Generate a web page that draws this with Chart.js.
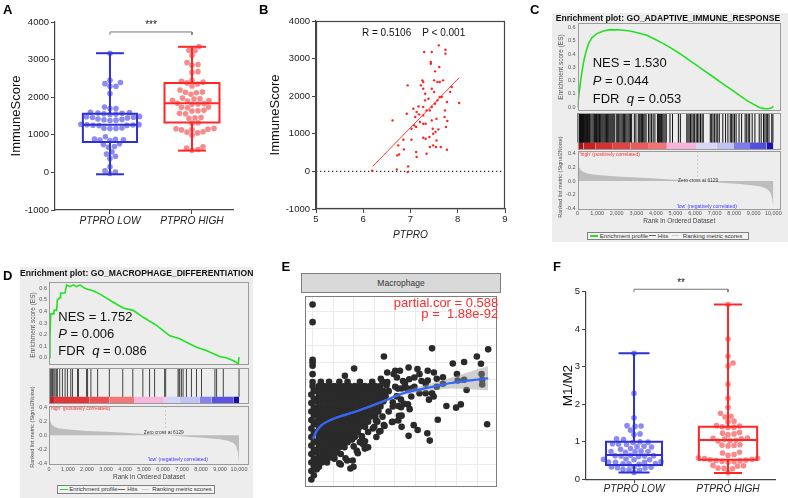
<!DOCTYPE html>
<html><head><meta charset="utf-8">
<script src="https://cdn.jsdelivr.net/npm/chart.js@4.4.1/dist/chart.umd.min.js"></script>
<style>
body{margin:0;background:#fff;width:788px;height:498px;position:relative;overflow:hidden;font-family:"Liberation Sans",Arial,sans-serif;}
canvas{position:absolute;}
.t{position:absolute;white-space:pre;line-height:1;}
</style></head><body>
<script>
// ---------------- DATA ----------------
const cats = ['PTPRO LOW', 'PTPRO HIGH'];
// Panel A: ImmuneScore
const aLow = [3170,2450,2390,2360,2290,2290,2100,1740,1700,1700,1600,1590,1580,1570,1560,1550,1540,1490,1480,1470,1460,1450,1420,1410,1400,1390,1380,1280,1270,1265,1260,1255,1250,1245,1180,1175,1170,1165,950,890,880,870,860,850,760,740,690,670,550,490,430,370,150,40,10,-30];
const aHigh = [3350,3250,3240,3110,2920,2870,2850,2680,2660,2450,2420,2400,2380,2350,2300,2190,2140,2130,2120,2080,1980,1960,1950,1920,1910,1900,1840,1830,1820,1810,1740,1730,1720,1650,1640,1630,1570,1560,1460,1450,1440,1320,1310,1170,1160,1150,1140,1130,1080,1070,1050,990,680,650,610,590];
const aLowBox = [-50, 810, 1270, 1560, 3170];   // min, q1, median, q3, max
const aHighBox = [580, 1330, 1840, 2380, 3340];
// Panel B: PTPRO vs ImmuneScore
const bX = [6.62,6.19,6.71,6.72,6.76,6.74,6.92,6.94,6.95,6.94,6.85,6.86,7.02,7.02,7.06,7.08,7.10,7.12,7.12,7.13,7.17,7.18,7.13,7.20,7.22,7.25,7.27,7.27,7.27,7.27,7.27,7.27,7.29,7.31,7.31,7.32,7.32,7.34,7.34,7.38,7.40,7.41,7.41,7.43,7.43,7.45,7.45,7.45,7.45,7.47,7.48,7.48,7.50,7.50,7.52,7.52,7.53,7.54,7.55,7.55,7.57,7.57,7.59,7.60,7.61,7.62,7.62,7.64,7.66,7.69,7.72,7.73,7.74,7.74,7.75,7.77,7.77,7.78,7.84,7.87,8.03];
const bY = [1357,18,53,425,452,692,1534,2288,133,-18,843,585,843,1135,1667,1224,1446,1180,514,381,1730,1517,1579,1313,2288,2421,2377,2200,1712,1490,1268,896,3175,2066,1889,1268,869,470,1623,1933,913,1623,647,2909,2865,3175,2200,1712,1357,1135,1002,692,2111,2421,2661,1800,1046,647,1401,825,2377,1889,1117,3352,2776,2377,1978,647,1978,2421,1446,1623,3237,3131,1180,1845,576,1339,2111,2244,1818];
const bFitX = [6.2, 8.03];
const bFitY = [133, 2492];
// GSEA rank axis ticks
const rankTicks = [0,1000,2000,3000,4000,5000,6000,7000,8000,9000,10000];
// Panel C: GSEA adaptive immune response
const cEsX = [0,51,136,221,306,425,561,731,986,1326,1666,2200,2686,3100,3536,3950,4386,4800,5236,5650,6086,6500,6936,7350,7786,8200,8636,9000,9316,9550,9741,9900,10000];
const cEsY = [0,0.076,0.176,0.265,0.34,0.416,0.479,0.524,0.555,0.575,0.585,0.582,0.575,0.56,0.542,0.512,0.479,0.443,0.403,0.36,0.315,0.272,0.227,0.183,0.139,0.095,0.05,0.02,-0.005,-0.012,-0.013,-0.008,0.005];
const cHits = [5,20,35,50,70,90,110,130,150,175,200,225,250,275,300,330,360,390,420,450,480,510,540,570,600,630,680,740,800,860,910,940,970,1000,1040,1080,1120,1160,1200,1250,1300,1350,1400,1440,1480,1520,1560,1600,1650,1700,1750,1800,1850,1900,2000,2050,2100,2160,2220,2280,2340,2400,2460,2520,2580,2640,2700,2760,2900,2980,3100,3150,3200,3260,3320,3380,3440,3500,3620,3700,3780,3860,3950,4080,4130,4180,4230,4290,4350,4410,4470,4530,4720,4850,5150,5250,5580,5640,5700,5770,5840,5910,5980,6060,6130,6200,6280,6360,6420,6780,6850,6920,7000,7080,7160,7240,7420,7560,7680,7800,7870,7940,8020,8100,8250,8380,8560,8640,8720,8790,8920,9060,9280,9380,9500,9570,9640,9710,9780,9920,9980];
const cRankX = [0,30,80,150,300,500,800,1200,2000,3000,4000,5000,5600,6129,6800,7500,8300,9000,9400,9700,9850,9950,10000];
const cRankY = [0.36,0.25,0.2,0.16,0.13,0.11,0.095,0.085,0.065,0.05,0.035,0.02,0.01,0,-0.012,-0.028,-0.045,-0.065,-0.085,-0.12,-0.17,-0.26,-0.38];
const cBarStart = [0,300,900,1800,2700,3600,4560,6090,7110,7960,8810,9660];
const cBarEnd = [300,900,1800,2700,3600,4560,6090,7110,7960,8810,9660,10000];
const cBarColor = ['#a81414','#c82020','#d83030','#e24242','#ea5a5a','#f07474','#f4b4dc','#d6d6f6','#c2c2f2','#7c7cea','#5050dc','#1a10b8'];
// Panel D: GSEA macrophage differentiation
const dEsX = [0,50,90,230,260,400,440,580,610,840,930,1100,1280,1450,1630,1890,2070,2330,2680,3380,3900,4430,4960,5660,6360,6880,7230,7760,8280,8980,9330,9680,9960,10000];
const dEsY = [0,0.18,0.38,0.38,0.41,0.41,0.5,0.52,0.56,0.56,0.63,0.615,0.63,0.615,0.63,0.6,0.59,0.58,0.55,0.48,0.43,0.41,0.35,0.28,0.19,0.164,0.135,0.092,0.063,0.011,0,-0.023,-0.05,0.006];
const dHits = [0,35,88,141,176,212,265,318,388,441,564,706,847,970,1147,1235,1500,1552,1976,2029,2205,2558,3175,3881,4410,4939,5292,5557,6086,6139,6791,6844,6880,6968,7056,7232,7497,7762,8026,8732,8820,9173,10000];
const dRankX = [0,30,80,150,300,500,800,1200,2000,3000,4000,5000,5600,6129,6800,7500,8300,9000,9400,9700,9850,9950,10000];
const dRankY = [0.3,0.24,0.19,0.15,0.12,0.1,0.088,0.078,0.06,0.047,0.033,0.018,0.009,0,-0.012,-0.027,-0.042,-0.06,-0.08,-0.11,-0.16,-0.25,-0.4];
const dBarStart = [0,265,2117,3175,4498,6086,6880,7938,8555,9702];
const dBarEnd = [265,2117,3175,4498,6086,6880,7938,8555,9702,10000];
const dBarColor = ['#c82222','#e03838','#ea5252','#f07878','#f6b6de','#d4d4f6','#c4c4f4','#8484ec','#5a52e0','#1a0ab2'];
// Panel E: Macrophage scatter (x, y in plot units)
const ePoints = [
[-0.06,0.1],[0.06,0.35],[-0.06,0.6],[0.06,0.85],[-0.06,1.1],[0.06,1.35],[-0.06,1.6],[0.06,1.85],[-0.06,2.1],[0.06,2.35],[-0.06,2.6],[0.06,2.85],[-0.06,3.1],[0.06,3.35],[-0.06,3.6],[0.06,3.85],[-0.06,4.1],[0.06,4.35],[-0.06,4.6],[0.06,4.85],[-0.06,5.1],[0.06,5.35],[0,5.6],[0,5.84],[0,6.3],[0,6.8],[0,7.0],[0,7.15],[0,9.36],[0,10.4],
[0.2,0.7],[0.31,0.85],[0.51,1.22],[0.75,1.79],[0.9,1.41],[1.06,1.32],[1.21,1.98],[1.37,1.6],[1.68,1.22],[1.84,0.75],[2.15,1.79],[2.46,2.17],[2.62,1.98],[2.93,3.1],[3.24,2.92],[3.47,3.3],[3.08,3.58],[3.86,3.48],[1.37,0.98],[1.95,1.22],[1.99,0.85],[0.64,1.45],[2.54,1.92],[1.53,2.35],[1.92,2.45],[2.38,2.64],
[0.2,1.1],[0.45,1.1],[0.7,1.1],[1.3,1.05],
[0.3,1.4],[0.55,1.4],[0.8,1.4],[1.05,1.4],[1.6,1.35],
[0.2,1.7],[0.45,1.7],[0.7,1.7],[0.95,1.7],[1.2,1.7],[2.2,1.65],
[0.3,2.0],[0.55,2.0],[0.8,2.0],[1.05,2.0],[1.3,2.0],[1.55,2.0],[2.0,2.05],[2.7,2.0],
[0.2,2.3],[0.45,2.3],[0.7,2.3],[0.95,2.3],[1.2,2.3],[1.45,2.3],[1.7,2.3],[2.3,2.3],[2.55,2.35],
[0.3,2.6],[0.55,2.6],[0.8,2.6],[1.05,2.6],[1.3,2.6],[1.55,2.6],[1.8,2.6],[2.05,2.6],[2.4,2.65],[3.1,2.6],
[0.2,2.9],[0.45,2.9],[0.7,2.9],[0.95,2.9],[1.2,2.9],[1.45,2.9],[1.7,2.9],[1.95,2.9],[2.2,2.9],[2.7,2.9],[3.3,2.95],
[0.3,3.2],[0.55,3.2],[0.8,3.2],[1.05,3.2],[1.3,3.2],[1.55,3.2],[1.8,3.2],[2.05,3.2],[2.3,3.2],[2.55,3.2],[3.0,3.2],[3.5,3.25],
[0.2,3.5],[0.45,3.5],[0.7,3.5],[0.95,3.5],[1.2,3.5],[1.45,3.5],[1.7,3.5],[1.95,3.5],[2.2,3.5],[2.45,3.5],[2.7,3.5],[3.15,3.5],[3.9,3.5],
[0.3,3.8],[0.55,3.8],[0.8,3.8],[1.05,3.8],[1.3,3.8],[1.55,3.8],[1.8,3.8],[2.05,3.8],[2.3,3.8],[2.55,3.8],[2.8,3.8],[3.05,3.8],[3.4,3.8],[4.2,3.85],
[0.2,4.1],[0.45,4.1],[0.7,4.1],[0.95,4.1],[1.2,4.1],[1.45,4.1],[1.7,4.1],[1.95,4.1],[2.2,4.1],[2.45,4.1],[2.7,4.1],[2.95,4.1],[3.2,4.1],[3.7,4.1],
[0.3,4.4],[0.55,4.4],[0.8,4.4],[1.05,4.4],[1.3,4.4],[1.55,4.4],[1.8,4.4],[2.05,4.4],[2.3,4.4],[2.55,4.4],[2.8,4.4],[3.05,4.4],[3.3,4.4],[3.9,4.4],[4.3,4.35],
[0.2,4.7],[0.45,4.7],[0.7,4.7],[0.95,4.7],[1.2,4.7],[1.45,4.7],[1.7,4.7],[1.95,4.7],[2.2,4.7],[2.45,4.7],[2.7,4.7],[2.95,4.7],[3.2,4.7],[3.45,4.7],[3.9,4.65],
[0.3,5.0],[0.55,5.0],[0.8,5.0],[1.05,5.0],[1.3,5.0],[1.55,5.0],[1.8,5.0],[2.05,5.0],[2.3,5.0],[2.55,5.0],[2.8,5.0],[3.05,5.0],[3.3,5.0],[3.55,5.0],[4.1,5.0],
[0.2,5.3],[0.45,5.3],[0.7,5.3],[0.95,5.3],[1.2,5.3],[1.45,5.3],[1.7,5.3],[1.95,5.3],[2.2,5.3],[2.45,5.3],[2.7,5.3],[2.95,5.3],[3.2,5.3],[3.45,5.3],[3.7,5.3],
[0.3,5.6],[0.55,5.6],[0.8,5.6],[1.05,5.6],[1.3,5.6],[1.55,5.6],[1.8,5.6],[2.05,5.6],[2.3,5.6],[2.55,5.6],[2.8,5.6],[3.05,5.6],[3.3,5.6],[3.6,5.65],
[0.4,5.85],[0.8,5.85],[1.3,5.85],[1.7,5.85],[2.3,5.85],[2.9,5.85],[3.4,5.85],
[1.57,6.2],[2.02,6.63],[3.47,7.34],[3.32,6.03],[3.63,6.4],[4.02,6.5],[3.63,5.84],[3.94,6.31],[4.25,6.5],[4.67,6.69],[5.1,6.6],[5.2,6.3],[5.6,6.5],[5.9,6.4],[5.6,5.93],[6.04,6.03],[5.81,7.82],[6.82,6.93],[7.37,7.02],[7.99,7.34],[8.54,7.76],[8.19,6.91],[7.02,6.31],[7.06,5.93],[7.37,5.97],[7.49,5.37],[8.22,6.31],[8.25,5.97],[8.25,5.69],[6.51,4.43],[6.98,4.33],[7.21,4.52],[6.09,3.62],[8.49,3.35],[5.11,3.01],[4.67,2.67],[5.58,2.82],[5.7,2.39],[4.92,3.3],[4.33,3.2],[4.17,4.43],[4.72,4.24],[4.64,4.52],[4.33,3.86],[4.17,3.58],[4.8,4.99],[5.2,5.18],[5.5,5.18],[5.66,4.8],[5.81,5.18],[5.89,4.99],[4.95,5.56],[4.64,5.37],[4.33,5.46],[4.02,5.56],[6.04,5.56],[6.34,5.74],[5.5,5.74],[4.49,5.74],[4.15,5.45],[4.55,5.5],[4.8,5.45],[4.4,5.9],[4.1,6.1],[4.7,6.0],[4.1,5.0],[4.3,4.8],[4.45,4.55],[5.3,5.9],[4.95,6.1],[6.34,6.12]
];
const eFitX = [0.02,0.2,0.44,0.83,1.45,2.07,2.85,3.63,4.41,5.19,5.97,6.74,7.68,8.54];
const eFitY = [2.5,2.96,3.3,3.58,3.86,4.09,4.43,4.8,5.18,5.4,5.59,5.78,5.93,6.06];
const eBandLo = [2.35,2.86,3.22,3.51,3.8,4.03,4.36,4.71,5.06,5.23,5.35,5.45,5.41,5.34];
const eBandHi = [2.65,3.06,3.38,3.65,3.92,4.15,4.5,4.89,5.3,5.57,5.83,6.11,6.45,6.78];
// Panel F: M1/M2
const fLow = [3.36,2.29,1.64,1.43,1.42,1.41,1.31,1.21,1.19,1.08,1.06,1.0,0.99,0.98,0.95,0.94,0.93,0.88,0.87,0.86,0.82,0.8,0.75,0.74,0.74,0.73,0.72,0.64,0.63,0.63,0.62,0.62,0.61,0.54,0.53,0.52,0.52,0.47,0.46,0.45,0.45,0.42,0.41,0.41,0.4,0.33,0.33,0.32,0.31,0.3,0.26,0.25,0.24,0.18];
const fHigh = [4.66,3.74,3.28,3.1,3.02,2.53,2.16,1.92,1.76,1.68,1.66,1.55,1.53,1.43,1.42,1.4,1.39,1.38,1.25,1.23,1.21,1.19,1.1,1.09,1.08,1.07,1.04,1.03,1.02,0.92,0.91,0.9,0.89,0.72,0.7,0.66,0.64,0.57,0.56,0.55,0.53,0.52,0.51,0.5,0.49,0.48,0.47,0.46,0.37,0.36,0.35,0.3,0.29,0.28,0.18];
const fLowBox = [0.18, 0.38, 0.65, 1.0, 3.36];
const fHighBox = [0.17, 0.52, 1.05, 1.4, 4.66];

// ---------------- SETUP ----------------
const F = '"Liberation Sans", Arial, Helvetica, sans-serif';
Chart.defaults.font.family = F;
Chart.defaults.color = '#222';
Chart.defaults.animation = false;
Chart.defaults.responsive = false;
Chart.defaults.events = [];
Chart.defaults.plugins.legend.display = false;
Chart.defaults.plugins.tooltip.enabled = false;
Chart.defaults.plugins.colors = {enabled: false};
Chart.defaults.elements.line.tension = 0;

const annot = {
  id: 'annot',
  afterDatasetsDraw(chart, args, opts) {
    const ctx = chart.ctx;
    (opts.items || []).forEach(it => {
      const xs = chart.scales.x, ys = chart.scales.y;
      ctx.save();
      ctx.font = it.font; ctx.fillStyle = it.color || '#222';
      ctx.textAlign = it.align || 'center'; ctx.textBaseline = 'middle';
      ctx.fillText(it.text, xs.getPixelForValue(it.x), ys.getPixelForValue(it.y));
      ctx.restore();
    });
  }
};
const frame = {
  id: 'frame',
  afterDraw(chart, args, opts) {
    if (!opts.color) return;
    const a = chart.chartArea, ctx = chart.ctx;
    ctx.save(); ctx.strokeStyle = opts.color; ctx.lineWidth = opts.width || 1;
    ctx.strokeRect(Math.round(a.left) + 0.5, Math.round(a.top) + 0.5, Math.round(a.right - a.left) - 1, Math.round(a.bottom - a.top) - 1);
    ctx.restore();
  }
};
Chart.register(annot, frame);

function cv(l, t, w, h) {
  const c = document.createElement('canvas');
  c.width = Math.round(w); c.height = Math.round(h);
  Object.assign(c.style, {left: l + 'px', top: t + 'px', width: Math.round(w) + 'px', height: Math.round(h) + 'px'});
  document.body.appendChild(c); return c;
}
function box(l, t, w, h, css, parent) {
  const d = document.createElement('div');
  d.style.cssText = 'position:absolute;left:' + l + 'px;top:' + t + 'px;width:' + w + 'px;height:' + h + 'px;box-sizing:border-box;' + css;
  (parent || document.body).appendChild(d); return d;
}
function txt(s, x, y, css, anchor, parent) {
  const d = document.createElement('div');
  d.className = 't'; d.innerHTML = s;
  const tx = anchor === 'c' ? '-50%' : anchor === 'r' ? '-100%' : '0';
  d.style.cssText = 'left:' + x + 'px;top:' + y + 'px;' + css + ';transform:translate(' + tx + ',-50%)';
  (parent || document.body).appendChild(d); return d;
}
function vtxt(s, x, y, css) {
  const d = txt(s, x, y, css, 'c');
  d.style.transform = 'translate(-50%,-50%) rotate(-90deg)';
  return d;
}
const xy = (xs, ys) => xs.map((x, i) => ({x, y: ys[i]}));

function swarm(vals, cx, pxX, pxY, dia) {
  const idx = vals.map((v, i) => i).sort((a, b) => vals[a] - vals[b]);
  const placed = [], out = [];
  for (const i of idx) {
    const py = vals[i] * pxY;
    let off = 0;
    for (let s = 0; s < 400; s++) {
      off = s === 0 ? 0 : (s % 2 ? 1 : -1) * Math.ceil(s / 2) * 0.5;
      if (placed.every(q => (q.x - off) ** 2 + (q.y - py) ** 2 >= dia * dia)) break;
    }
    placed.push({x: off, y: py});
    out.push({x: cx + off / pxX, y: vals[i]});
  }
  return out;
}
function boxSets(st, cx, hb, hc, color, lw) {
  const [mn, q1, md, q3, mx] = st;
  const seg = pts => ({data: pts.map(([x, y]) => ({x, y})), showLine: true, borderColor: color, borderWidth: lw, pointRadius: 0, fill: false, order: 1, borderJoinStyle: 'miter', borderCapStyle: 'butt'});
  return [
    seg([[cx - hb, q1], [cx + hb, q1], [cx + hb, q3], [cx - hb, q3], [cx - hb, q1], [cx + hb, q1]]),
    seg([[cx - hb, md], [cx + hb, md]]),
    seg([[cx, q3], [cx, mx]]),
    seg([[cx, q1], [cx, mn]]),
    seg([[cx - hc, mx], [cx + hc, mx]]),
    seg([[cx - hc, mn], [cx + hc, mn]])
  ];
}
const dots = (data, col, r) => ({data, showLine: false, pointRadius: r, pointBackgroundColor: col, pointBorderWidth: 0, order: 2});
const axisGrid = {drawOnChartArea: false, tickLength: 4, color: '#444', lineWidth: 1};
const axisBorder = {color: '#444', width: 1.2};

// ---------------- PANEL A ----------------
new Chart(cv(0, 0, 260, 250), {
  type: 'line',
  data: {datasets: [
    dots(swarm(aLow, 1, 82, 0.03766, 5.6), '#8b8bf2', 2.8),
    dots(swarm(aHigh, 2, 82, 0.03766, 5.6), '#f78b8b', 2.8),
    ...boxSets(aLowBox, 1, 0.33, 0.17, '#3030d2', 2),
    ...boxSets(aHighBox, 2, 0.335, 0.17, '#ff2626', 2),
    {data: [{x: 1, y: 3660}, {x: 1, y: 3735}, {x: 2, y: 3735}, {x: 2, y: 3660}], showLine: true, borderColor: '#777', borderWidth: 1, pointRadius: 0, clip: false}
  ]},
  options: {
    layout: {padding: {top: 22, right: 27, bottom: 0, left: 0}},
    scales: {
      x: {type: 'linear', min: 0.33, max: 2.5, afterBuildTicks: s => { s.ticks = [{value: 1}, {value: 2}]; },
          ticks: {callback: v => cats[v - 1], font: {size: 10.2, style: 'italic'}, color: '#222', padding: 1, maxRotation: 0, autoSkip: false},
          grid: axisGrid, border: axisBorder, afterFit: s => { s.height = 40; }},
      y: {min: -1000, max: 4000, ticks: {stepSize: 1000, font: {size: 9.5}, color: '#222', padding: 2, callback: v => String(v)},
          grid: axisGrid, border: axisBorder,
          title: {display: true, text: 'ImmuneScore', font: {size: 13}, color: '#111', padding: {top: 9, bottom: 0}},
          afterFit: s => { s.width = 55; }}
    },
    plugins: {annot: {items: [{x: 1.5, y: 3904, text: '***', font: '10px ' + F, color: '#222'}]}}
  }
});

// ---------------- PANEL B ----------------
new Chart(cv(260, 0, 260, 250), {
  type: 'line',
  data: {datasets: [
    {data: xy(bX, bY), showLine: false, pointRadius: 1.2, pointBackgroundColor: '#ff2020', pointBorderWidth: 0},
    {data: xy(bFitX, bFitY), showLine: true, borderColor: '#ff3c3c', borderWidth: 1, pointRadius: 0},
    {data: [{x: 5, y: 0}, {x: 9, y: 0}], showLine: true, borderColor: '#333', borderWidth: 1.3, borderDash: [1.3, 2.7], pointRadius: 0}
  ]},
  options: {
    layout: {padding: {top: 21, right: 15, bottom: 0, left: 0}},
    scales: {
      x: {type: 'linear', min: 5, max: 9, ticks: {stepSize: 1, font: {size: 9.5}, color: '#222', padding: 1, callback: v => String(v)},
          grid: axisGrid, border: axisBorder,
          title: {display: true, text: 'PTPRO', font: {size: 10.2, style: 'italic'}, color: '#222', padding: {top: 0, bottom: 8.9}},
          afterFit: s => { s.height = 41; }},
      y: {min: -1000, max: 4000, ticks: {stepSize: 1000, font: {size: 9.5}, color: '#222', padding: 2, callback: v => String(v)},
          grid: axisGrid, border: axisBorder,
          title: {display: true, text: 'ImmuneScore', font: {size: 13}, color: '#111', padding: {top: 7.2, bottom: 0}},
          afterFit: s => { s.width = 56; }}
    },
    plugins: {frame: {color: '#444', width: 1.2}}
  }
});

// ---------------- GSEA helper ----------------
function gsea(p) {
  box(p.bgL, p.bgT, p.bgW, p.bgH, 'background:#ededed');
  const cl = p.bgL + 2, yw = p.aL - cl, padR = 10;
  const cw = p.aR + padR - cl;
  const tickFont = {size: 5.5};
  // ES plot
  const tp = 10, bp = 8;
  new Chart(cv(cl, p.esT - tp, cw, p.esB - p.esT + tp + bp), {
    type: 'line',
    data: {datasets: [{data: xy(p.esX, p.esY), showLine: true, borderColor: '#22e022', borderWidth: 1.6, pointRadius: 0}]},
    options: {
      layout: {padding: {top: tp, bottom: bp, right: padR, left: 0}},
      scales: {
        x: {type: 'linear', display: false, min: 0, max: p.xMax},
        y: {min: p.esMin, max: p.esMax, afterFit: s => { s.width = yw; },
            ticks: {stepSize: 0.1, includeBounds: false, font: tickFont, color: '#555', padding: 2, callback: v => v.toFixed(1)},
            grid: {display: false, drawTicks: false}, border: {display: false}}
      },
      plugins: {frame: {color: '#9a9a9a'}}
    }
  });
  // Hits + colour bar
  const hitPts = [];
  p.hits.forEach(r => { hitPts.push({x: r, y: 0.2}, {x: r, y: 1}, {x: r, y: null}); });
  const bars = p.barStart.map((s, i) => ({data: [{x: s, y: 0.2}, {x: p.barEnd[i], y: 0.2}], showLine: true, borderWidth: 0, pointRadius: 0, fill: 'origin', backgroundColor: p.barColor[i]}));
  new Chart(cv(cl, p.hT - 2, cw, p.hB - p.hT + 4), {
    type: 'line',
    data: {datasets: [{data: hitPts, showLine: true, spanGaps: false, borderColor: p.hitColor, borderWidth: 1, pointRadius: 0}, ...bars]},
    options: {
      layout: {padding: {top: 2, bottom: 2, left: yw, right: padR}},
      scales: {x: {type: 'linear', display: false, min: 0, max: p.xMax}, y: {display: false, min: 0, max: 1}},
      plugins: {frame: {color: '#9a9a9a'}}
    }
  });
  // Ranked list metric
  const rtp = 8;
  new Chart(cv(cl, p.rT - rtp, cw, p.axB - p.rT + rtp), {
    type: 'line',
    data: {datasets: [
      {data: xy(p.rankX, p.rankY), showLine: true, borderWidth: 0, pointRadius: 0, fill: 'origin', backgroundColor: '#bdbdbd'},
      {data: [{x: 6129, y: p.rMax}, {x: 6129, y: 0.03}], showLine: true, borderColor: '#c8c8c8', borderWidth: 1, borderDash: [2, 2], pointRadius: 0}
    ]},
    options: {
      layout: {padding: {top: rtp, right: padR, bottom: 0, left: 0}},
      scales: {
        x: {type: 'linear', min: 0, max: p.xMax, afterFit: s => { s.height = p.axB - p.rB; },
            afterBuildTicks: s => { s.ticks = rankTicks.map(v => ({value: v})); },
            ticks: {autoSkip: false, maxRotation: 0, font: tickFont, color: '#555', padding: p.xtPad, callback: v => v.toLocaleString('en-US')},
            grid: {display: false, drawTicks: false}, border: {display: false},
            title: {display: true, text: 'Rank in Ordered Dataset', font: {size: 6.5}, color: '#444', padding: {top: 0, bottom: 0}}},
        y: {min: p.rMin, max: p.rMax, afterFit: s => { s.width = yw; },
            ticks: {stepSize: 0.2, includeBounds: false, font: tickFont, color: '#555', padding: 2, callback: v => v.toFixed(1)},
            grid: {display: false, drawTicks: false}, border: {display: false}}
      },
      plugins: {
        frame: {color: '#9a9a9a'},
        annot: {items: [
          {x: p.highX, y: p.highY, text: "'high' (positively correlated)", font: '5px ' + F, color: '#ff2e2e', align: 'left'},
          {x: p.lowX, y: p.lowY, text: "'low' (negatively correlated)", font: '5px ' + F, color: '#3a3aff'},
          {x: p.zeroX, y: p.zeroY, text: 'Zero cross at 6129', font: '4.8px ' + F, color: '#333'}
        ]}
      }
    }
  });
  // texts
  txt(p.title, p.titleX, p.titleY, 'font:bold 8.6px ' + F + ';color:#111', 'c');
  vtxt('Enrichment score (ES)', p.ytX, p.esTitleY, 'font:6.5px ' + F + ';color:#555');
  vtxt('Ranked list metric (Signal2Noise)', p.ytX, p.rkTitleY, 'font:5.5px ' + F + ';color:#555');
  const big = 'font:13px ' + F + ';color:#111';
  txt(p.nes[0], p.nesL, p.nesY[0], big, 'l');
  txt(p.nes[1], p.nesL, p.nesY[1], big, 'l');
  txt(p.nes[2], p.nesL, p.nesY[2], big, 'l');
  // legend
  const lg = box(p.lgL, p.lgT, p.lgW, 8.5, 'border:1px solid #808080;background:#f3f3f3;');
  const lf = 'font:6px ' + F + ';color:#333';
  box(2, 2.5, 8, 1.5, 'background:#22e022', lg);
  txt('Enrichment profile', 11.5, 3.3, lf, 'l', lg);
  box(60.5, 2.5, 7, 1.2, 'background:#666', lg);
  txt('Hits', 69.5, 3.3, lf, 'l', lg);
  box(84, 2.5, 7, 1.2, 'background:#d0d0d0', lg);
  txt('Ranking metric scores', 94.5, 3.3, lf, 'l', lg);
}

// ---------------- PANEL C ----------------
gsea({
  bgL: 551.7, bgT: 12.7, bgW: 240, bgH: 229,
  aL: 577.3, aR: 781, xMax: 10393,
  esT: 22.7, esB: 110.7, esMin: -0.03, esMax: 0.635, esX: cEsX, esY: cEsY,
  hT: 113.3, hB: 150, hits: cHits, hitColor: '#111',
  barStart: cBarStart, barEnd: cBarEnd, barColor: cBarColor,
  rT: 150.7, rB: 210, rMin: -0.425, rMax: 0.438, rankX: cRankX, rankY: cRankY,
  axB: 224.9, xtPad: 0,
  highX: 100, highY: 0.385, lowX: 6602, lowY: -0.37, zeroX: 6157, zeroY: 0.0,
  title: 'Enrichment plot: GO_ADAPTIVE_IMMUNE_RESPONSE', titleX: 668, titleY: 17.5,
  ytX: 560, esTitleY: 66.7, rkTitleY: 177,
  nes: ['NES = 1.530', '<i>P</i> = 0.044', 'FDR  <i>q</i> = 0.053'], nesL: 592.7, nesY: [62.3, 80, 97.7],
  lgL: 587.3, lgT: 231.7, lgW: 162
});

// ---------------- PANEL D ----------------
gsea({
  bgL: 20, bgT: 266.7, bgW: 233, bgH: 232,
  aL: 49, aR: 249.3, xMax: 10525,
  esT: 281.7, esB: 364.5, esMin: -0.062, esMax: 0.655, esX: dEsX, esY: dEsY,
  hT: 368.3, hB: 404.7, hits: dHits, hitColor: '#444',
  barStart: dBarStart, barEnd: dBarEnd, barColor: dBarColor,
  rT: 405.5, rB: 465, rMin: -0.433, rMax: 0.417, rankX: dRankX, rankY: dRankY,
  axB: 480.6, xtPad: 1,
  highX: 50, highY: 0.386, lowX: 6779, lowY: -0.35, zeroX: 6040, zeroY: 0.03,
  title: 'Enrichment plot: GO_MACROPHAGE_DIFFERENTIATION', titleX: 136.7, titleY: 272.7,
  ytX: 32, esTitleY: 325, rkTitleY: 427,
  nes: ['NES = 1.752', '<i>P</i> = 0.006', 'FDR  <i>q</i> = 0.086'], nesL: 58.3, nesY: [316, 332.7, 350],
  lgL: 56.7, lgT: 485, lgW: 158.3
});

// ---------------- PANEL E ----------------
box(301, 273, 200, 20, 'background:#d9d9d9;border:1px solid #7f7f7f;');
new Chart(cv(301, 292, 200, 199), {
  type: 'line',
  data: {datasets: [
    {data: xy(eFitX, eBandHi), showLine: true, borderWidth: 0, pointRadius: 0, fill: '+1', backgroundColor: 'rgba(150,150,150,0.45)', order: 1, cubicInterpolationMode: 'monotone'},
    {data: xy(eFitX, eBandLo), showLine: true, borderWidth: 0, pointRadius: 0, fill: false, order: 1, cubicInterpolationMode: 'monotone'},
    {data: ePoints.map(([x, y]) => ({x, y})), showLine: false, pointRadius: 3.3, pointBackgroundColor: '#2a2a2a', pointBorderWidth: 0, order: 3},
    {data: xy(eFitX, eFitY), showLine: true, borderColor: '#3366ff', borderWidth: 2.2, pointRadius: 0, order: 0, cubicInterpolationMode: 'monotone'}
  ]},
  options: {
    layout: {padding: 0},
    scales: {
      x: {type: 'linear', min: -0.37, max: 8.97, ticks: {display: false, stepSize: 1, includeBounds: false}, grid: {color: '#ebebeb', drawTicks: false}, border: {display: false}},
      y: {min: -0.34, max: 10.9, ticks: {display: false, stepSize: 1, includeBounds: false}, grid: {color: '#ebebeb', drawTicks: false}, border: {display: false}}
    },
    plugins: {frame: {color: '#7f7f7f'}}
  }
});
txt('Macrophage', 401, 282.5, 'font:8.5px ' + F + ';color:#333', 'c');
txt('partial.cor = 0.588', 498.3, 301.7, 'font:13px ' + F + ';color:#ff2d2d', 'r');
txt('p =  1.88e-92', 498.3, 313.3, 'font:13px ' + F + ';color:#ff2d2d', 'r');

// ---------------- PANEL F ----------------
new Chart(cv(540, 250, 248, 248), {
  type: 'line',
  data: {datasets: [
    dots(swarm(fLow, 1, 94, 37.5, 5.6), '#8b8bf2', 2.8),
    dots(swarm(fHigh, 2, 94, 37.5, 5.6), '#f78b8b', 2.8),
    ...boxSets(fLowBox, 1, 0.298, 0.165, '#3030d2', 2),
    ...boxSets(fHighBox, 2, 0.31, 0.15, '#ff2626', 2),
    {data: [{x: 1, y: 4.99}, {x: 1, y: 5.065}, {x: 2, y: 5.065}, {x: 2, y: 4.99}], showLine: true, borderColor: '#777', borderWidth: 1, pointRadius: 0, clip: false}
  ]},
  options: {
    layout: {padding: {top: 41.7, right: 13, bottom: 0, left: 0}},
    scales: {
      x: {type: 'linear', min: 0.489, max: 2.5, afterBuildTicks: s => { s.ticks = [{value: 1}, {value: 2}]; },
          ticks: {callback: v => cats[v - 1], font: {size: 10.2, style: 'italic'}, color: '#222', padding: 0, maxRotation: 0, autoSkip: false},
          grid: axisGrid, border: axisBorder, afterFit: s => { s.height = 18.7; }},
      y: {min: 0, max: 5, ticks: {stepSize: 1, font: {size: 9.5}, color: '#222', padding: 2, callback: v => String(v)},
          grid: axisGrid, border: axisBorder,
          title: {display: true, text: 'M1/M2', font: {size: 13.5}, color: '#111', padding: {top: 20.2, bottom: 0}},
          afterFit: s => { s.width = 46; }}
    },
    plugins: {annot: {items: [{x: 1.5, y: 5.23, text: '**', font: '10px ' + F, color: '#222'}]}}
  }
});

// ---------------- panel letters & misc text ----------------
const LF = 'font:bold 13px ' + F + ';color:#000';
txt('A', 3, 9, LF, 'l');
txt('B', 259, 9, LF, 'l');
txt('C', 530, 9, LF, 'l');
txt('D', 3, 274.5, LF, 'l');
txt('E', 281.5, 265.5, LF, 'l');
txt('F', 553, 265.5, LF, 'l');
txt('R = 0.5106    P &lt; 0.001', 362, 32, 'font:10px ' + F + ';color:#111', 'l');
</script>
</body></html>
